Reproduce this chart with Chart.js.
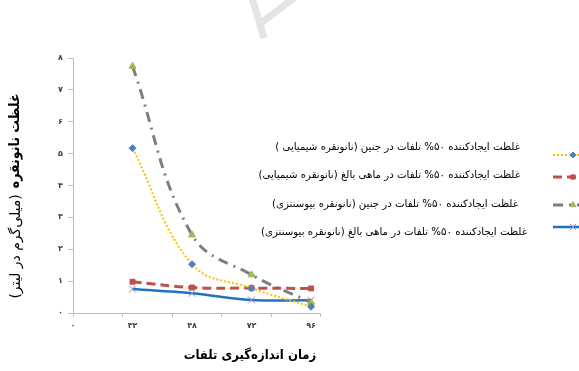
<!DOCTYPE html>
<html lang="fa">
<head>
<meta charset="utf-8">
<script src="https://cdn.jsdelivr.net/npm/chart.js@4/dist/chart.umd.min.js"></script>
<style>
  html, body { margin: 0; padding: 0; background: #fff; }
  #chart { display: block; }
</style>
</head>
<body>
<canvas id="chart" width="579" height="371"></canvas>
<script>
// sampling times (hours), shown with Persian digits
const timeLabels = ['۰', '۳۲', '۴۸', '۷۲', '۹۶'];
const yLabels = ['۰', '۱', '۲', '۳', '۴', '۵', '۶', '۷', '۸'];

// LC50 values, mg/L, at 32/48/72/96 h
const embryoChem = [5.17, 1.53, 0.78, 0.2];
const adultChem = [0.98, 0.8, 0.78, 0.77];
const embryoBio = [7.74, 2.45, 1.2, 0.33];
const adultBio = [0.75, 0.62, 0.41, 0.4];

const seriesNames = [
  'غلظت ایجادکننده ۵۰% تلفات در جنین (نانونقره شیمیایی )',
  'غلظت ایجادکننده ۵۰% تلفات در ماهی بالغ (نانونقره شیمیایی)',
  'غلظت ایجادکننده ۵۰% تلفات در جنین (نانونقره بیوسنتزی)',
  'غلظت ایجادکننده ۵۰% تلفات در ماهی بالغ (نانونقره بیوسنتزی)',
];

const yTitleBold = 'غلظت نانونقره';
const yTitleUnit = '(میلی‌گرم در لیتر)';
const xTitle = 'زمان اندازه‌گیری تلفات';

const FONT = '"DejaVu Sans", sans-serif';
const FONT_NARROW = '"DejaVu Sans Condensed", "DejaVu Sans", sans-serif';
const AXIS = '#bfbfbf';

const toPoints = (arr) => arr.map((v, i) => ({ x: i + 1, y: v }));

const styles = [
  { color: '#ffc000', width: 2, dash: [2, 2], point: 'rectRot', fill: '#4f81bd', stroke: '#4f81bd', r: 3.5 },
  { color: '#c0504d', width: 3, dash: [9, 5], point: 'rect', fill: '#c0504d', stroke: '#c0504d', r: 3.5 },
  { color: '#7f7f7f', width: 3, dash: [10, 6, 2, 6], point: 'triangle', fill: '#9bbb59', stroke: '#9bbb59', r: 4 },
  { color: '#2272c3', width: 2.5, dash: [], point: 'crossRot', fill: '#9a8cc8', stroke: '#9a8cc8', r: 5 },
];

const seriesData = [embryoChem, adultChem, embryoBio, adultBio];

const datasets = seriesData.map((vals, i) => {
  const s = styles[i];
  return {
    label: seriesNames[i],
    data: toPoints(vals),
    borderColor: s.color,
    borderWidth: s.width,
    borderDash: s.dash,
    tension: 0.4,
    pointStyle: s.point,
    pointRadius: s.r,
    pointBackgroundColor: s.fill,
    pointBorderColor: s.stroke,
    pointBorderWidth: 1,
    fill: false,
  };
});

function drawMarker(ctx, s, x, y) {
  if (Chart.helpers && Chart.helpers.drawPoint) {
    ctx.save();
    ctx.fillStyle = s.fill;
    ctx.strokeStyle = s.stroke;
    ctx.lineWidth = 1;
    Chart.helpers.drawPoint(ctx, { pointStyle: s.point, radius: s.r - 0.5, rotation: 0, borderWidth: 1 }, x, y);
    ctx.restore();
  }
}

const decorations = {
  id: 'decorations',
  beforeDraw(chart) {
    const ctx = chart.ctx;
    ctx.save();
    ctx.fillStyle = '#fff';
    ctx.fillRect(0, 0, chart.width, chart.height);
    // faint watermark strokes at the top
    ctx.strokeStyle = '#e4e4e4';
    ctx.lineWidth = 7;
    ctx.beginPath();
    ctx.moveTo(252, -2);
    ctx.lineTo(264, 38);
    ctx.moveTo(261, 23);
    ctx.lineTo(294, -2);
    ctx.stroke();
    ctx.restore();
  },
  afterDraw(chart) {
    const ctx = chart.ctx;
    const area = chart.chartArea;
    ctx.save();

    // small tick marks along the x axis
    ctx.strokeStyle = AXIS;
    ctx.lineWidth = 1;
    const n = 5;
    for (let i = 0; i <= n; i++) {
      const x = Math.round(area.left + (area.right - area.left) * i / n) + 0.5;
      ctx.beginPath();
      ctx.moveTo(x, area.bottom);
      ctx.lineTo(x, area.bottom + 4);
      ctx.stroke();
    }

    // legend
    const textRight = [520, 520, 518, 527];
    const textY = [147, 175, 204, 232];
    const lineY = [155, 177, 205, 227];
    ctx.direction = 'rtl';
    ctx.textAlign = 'right';
    ctx.textBaseline = 'middle';
    ctx.fillStyle = '#000';
    ctx.font = '10.2px ' + FONT;
    seriesNames.forEach((name, i) => {
      ctx.fillText(name, textRight[i], textY[i]);
    });
    ctx.direction = 'ltr';
    styles.forEach((s, i) => {
      ctx.save();
      ctx.strokeStyle = s.color;
      ctx.lineWidth = s.width;
      ctx.setLineDash(s.dash);
      ctx.beginPath();
      ctx.moveTo(553, lineY[i]);
      ctx.lineTo(592, lineY[i]);
      ctx.stroke();
      ctx.restore();
      drawMarker(ctx, s, 573, lineY[i]);
    });

    // y axis title, bold name then unit
    const boldFont = 'bold 14px ' + FONT_NARROW;
    const unitFont = '14px ' + FONT;
    ctx.save();
    ctx.translate(16, 196);
    ctx.rotate(-Math.PI / 2);
    ctx.direction = 'rtl';
    ctx.textAlign = 'right';
    ctx.textBaseline = 'middle';
    ctx.fillStyle = '#000';
    ctx.font = boldFont;
    const wb = ctx.measureText(yTitleBold).width;
    ctx.font = unitFont;
    const wn = ctx.measureText(yTitleUnit).width;
    const gap = 6;
    const total = wb + gap + wn;
    ctx.font = boldFont;
    ctx.fillText(yTitleBold, total / 2, -1);
    ctx.font = unitFont;
    ctx.fillText(yTitleUnit, total / 2 - wb - gap, 0);
    ctx.restore();

    // x axis title
    ctx.direction = 'rtl';
    ctx.textAlign = 'center';
    ctx.textBaseline = 'middle';
    ctx.font = 'bold 13px ' + FONT_NARROW;
    ctx.fillText(xTitle, 250, 356);

    ctx.restore();
  },
};

new Chart(document.getElementById('chart'), {
  type: 'line',
  data: { datasets: datasets },
  plugins: [decorations],
  options: {
    responsive: false,
    animation: false,
    layout: { padding: { top: 58, right: 259, left: 0, bottom: 0 } },
    plugins: {
      legend: { display: false },
      tooltip: { enabled: false },
    },
    scales: {
      x: {
        type: 'linear',
        min: 0,
        max: 4.15,
        afterFit: (scale) => { scale.height = 58; },
        afterBuildTicks: (scale) => {
          scale.ticks = timeLabels.map((_, i) => ({ value: i }));
        },
        ticks: {
          callback: (v) => timeLabels[v],
          font: { family: FONT, size: 8, weight: 'bold' },
          color: '#404040',
          padding: 8,
          maxRotation: 0,
          autoSkip: false,
        },
        grid: { display: true, drawOnChartArea: false, drawTicks: false, color: AXIS },
        border: { color: AXIS, width: 1 },
      },
      y: {
        min: 0,
        max: 8,
        afterFit: (scale) => { scale.width = 73; },
        ticks: {
          stepSize: 1,
          callback: (v) => yLabels[v],
          font: { family: FONT, size: 8, weight: 'bold' },
          color: '#404040',
          padding: 5,
        },
        grid: { display: true, drawOnChartArea: false, drawTicks: true, tickLength: 5, color: AXIS },
        border: { color: AXIS, width: 1 },
      },
    },
  },
});
</script>
</body>
</html>
